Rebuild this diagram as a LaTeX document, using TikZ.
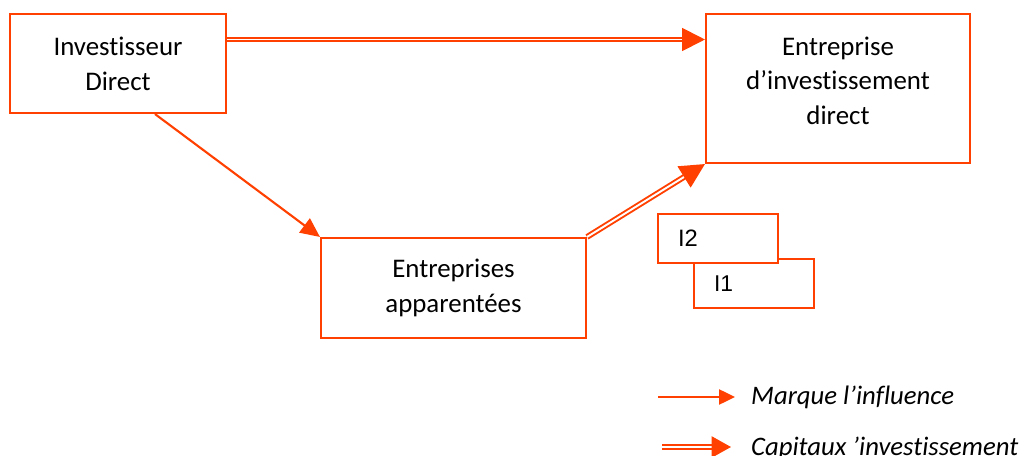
\documentclass[tikz,border=0pt]{standalone}
\usepackage{fontspec}
\setmainfont[Ligatures=NoCommon]{Carlito}
\newfontfamily\arialfont{Liberation Sans}
\usetikzlibrary{arrows.meta}
\definecolor{fdired}{RGB}{255,64,0}

\begin{document}
\begin{tikzpicture}[
        x=0.02cm, y=-0.02cm, % une unite = un pixel du schema
        bloc/.style={draw=fdired, line width=1.2pt, fill=white, align=center,
            font=\fontsize{15.3}{19.8}\selectfont},
        indice/.style={draw=fdired, line width=1.2pt, fill=white, align=left,
            text width=1.6cm, inner xsep=0.4cm, minimum width=2.4cm,
            minimum height=0.98cm, font=\arialfont\fontsize{13.5}{16}\selectfont},
        influence/.style={draw=fdired, line width=1.2pt, -{Triangle[length=11pt, width=10pt]}},
        capital/.style={draw=fdired, double, double distance=1.1pt, line width=1.1pt,
            -{Triangle[length=13pt, width=13pt]}},
        legende/.style={anchor=west, font=\itshape\fontsize{15.2}{18}\selectfont},
    ]

    \useasboundingbox (0,0) rectangle (1019,456);

    % les trois entreprises
    \node[bloc, minimum width=4.32cm, minimum height=1.98cm] (inv) at (118,63.5) {Investisseur\\Direct};
    \node[bloc, minimum width=5.28cm, minimum height=2.98cm, text depth=9pt] (ent) at (838,88.5) {Entreprise\\d’investissement\\direct};
    \node[bloc, minimum width=5.3cm, minimum height=2.0cm, text depth=3pt] (app) at (453.5,288) {Entreprises\\apparentées};

    % I1 sous I2
    \node[indice, font=\arialfont\fontsize{13}{16}\selectfont] (i1) at (754,283.5) {I1};
    \node[indice] (i2) at (718,238.5) {I2};

    \draw[capital] ([yshift=0.48cm]inv.east) -- ([yshift=0.48cm]inv.east -| ent.west);
    \draw[influence] ([xshift=0.74cm]inv.south) -- (app.north west);
    \draw[capital, -{Triangle[length=14pt, width=14pt]}] (app.north east) -- (ent.south west);

    % legende
    \coordinate (m1) at (658,397);
    \coordinate (m2) at (735,397);
    \coordinate (c1) at (662,447);
    \coordinate (c2) at (731,447);
    \draw[influence, -{Triangle[length=9pt, width=8.5pt]}] (m1) -- (m2);
    \draw[capital, -{Triangle[length=11pt, width=12pt]}] (c1) -- (c2);
    \node[legende] (tm) at (745,397) {Marque l’influence};
    \node[legende] (tc) at (745,448) {Capitaux ’investissement};

\end{tikzpicture}
\end{document}
